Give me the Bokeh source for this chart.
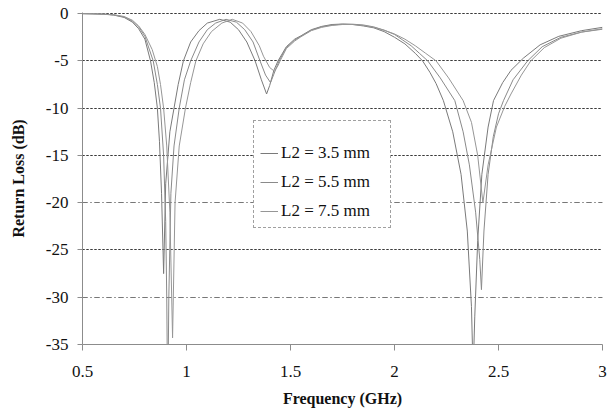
from bokeh.plotting import figure
from bokeh.models import (ColumnDataSource, Legend, LegendItem, Grid, FixedTicker,
                          SingleIntervalTicker, NumeralTickFormatter, Range1d)
from bokeh.embed import file_html
from bokeh.resources import INLINE

# ---- data (frequency in GHz, return loss in dB) ----
series_names = ["L2 = 3.5 mm", "L2 = 5.5 mm", "L2 = 7.5 mm"]

freq_a = [0.50, 0.55, 0.60, 0.65, 0.70, 0.74, 0.77, 0.80, 0.827, 0.845, 0.86, 0.87, 0.88, 0.89,
          0.90, 0.92, 0.94, 0.96, 0.985, 1.02, 1.06, 1.10, 1.16,
          1.21, 1.25, 1.29, 1.33, 1.36, 1.385, 1.40, 1.42, 1.44, 1.48, 1.52, 1.55, 1.60, 1.65,
          1.70, 1.75, 1.80, 1.85, 1.90, 1.95, 2.00, 2.05, 2.10, 2.135, 2.17, 2.20, 2.235, 2.28,
          2.32, 2.35, 2.37, 2.378, 2.386, 2.40, 2.42, 2.45, 2.476, 2.52, 2.56, 2.62, 2.70, 2.79,
          2.90, 3.00]
rl_a = [0.0, -0.02, -0.06, -0.15, -0.4, -0.9, -1.6, -2.7, -5.0, -7.3, -10.0, -13.5, -19.0, -27.5,
        -18.0, -12.5, -10.0, -7.5, -5.0, -3.0, -1.8, -1.0, -0.6,
        -0.9, -1.7, -3.0, -5.0, -7.0, -8.5, -7.6, -6.0, -5.0, -3.5, -2.7, -2.35, -1.7, -1.35,
        -1.15, -1.1, -1.15, -1.3, -1.5, -1.9, -2.5, -3.2, -4.2, -5.0, -6.2, -7.4, -9.2, -12.5,
        -17.0, -23.0, -31.0, -38.0, -32.0, -24.0, -17.0, -12.0, -9.2, -7.3, -6.0, -4.7, -3.3, -2.4,
        -1.8, -1.45]

freq_b = [0.50, 0.55, 0.60, 0.65, 0.70, 0.74, 0.77, 0.80, 0.84, 0.86, 0.875, 0.89, 0.90, 0.905,
          0.91, 0.915, 0.925, 0.94, 0.965, 0.99, 1.02, 1.06, 1.10, 1.14, 1.19,
          1.24, 1.28, 1.32, 1.35, 1.38, 1.404, 1.42, 1.445, 1.48, 1.52, 1.55, 1.60, 1.65,
          1.70, 1.75, 1.80, 1.85, 1.90, 1.95, 2.00, 2.04, 2.08, 2.12, 2.16, 2.22, 2.29, 2.33,
          2.36, 2.39, 2.41, 2.418, 2.43, 2.45, 2.475, 2.50, 2.524, 2.57, 2.64, 2.71, 2.80,
          2.90, 3.00]
rl_b = [0.0, -0.02, -0.05, -0.13, -0.35, -0.8, -1.4, -2.4, -5.0, -7.5, -10.0, -15.0, -22.0, -30.0,
        -42.0, -30.0, -19.0, -14.0, -10.0, -7.0, -5.0, -3.0, -1.7, -1.0, -0.6,
        -0.9, -1.7, -3.0, -4.8, -6.5, -7.3, -6.4, -5.0, -3.6, -2.8, -2.4, -1.75, -1.4,
        -1.2, -1.12, -1.12, -1.2, -1.4, -1.75, -2.2, -2.8, -3.4, -4.2, -5.0, -6.8, -9.2, -12.5,
        -16.0, -21.0, -26.0, -29.2, -23.0, -17.0, -13.0, -10.6, -9.2, -7.0, -5.0, -3.5, -2.5,
        -1.95, -1.65]

freq_c = [0.50, 0.55, 0.60, 0.65, 0.70, 0.74, 0.77, 0.80, 0.835, 0.86, 0.875, 0.89, 0.905, 0.92,
          0.933, 0.945, 0.965, 0.995, 1.02, 1.045, 1.08, 1.12, 1.17, 1.22,
          1.27, 1.31, 1.35, 1.37, 1.40, 1.423, 1.44, 1.45, 1.48, 1.52, 1.55, 1.60, 1.65,
          1.70, 1.75, 1.80, 1.85, 1.90, 1.95, 2.00, 2.05, 2.10, 2.15, 2.20, 2.26, 2.33,
          2.37, 2.40, 2.425, 2.45, 2.49, 2.53, 2.56, 2.61, 2.655, 2.72, 2.80, 2.90, 3.00]
rl_c = [0.0, -0.02, -0.05, -0.12, -0.3, -0.7, -1.3, -2.2, -3.8, -5.6, -7.5, -10.0, -14.0, -21.0,
        -34.3, -20.0, -14.0, -10.0, -7.3, -5.0, -3.2, -1.9, -1.0, -0.6,
        -1.0, -1.9, -3.4, -4.5, -5.7, -6.1, -5.5, -5.0, -3.7, -2.9, -2.45, -1.8, -1.45,
        -1.25, -1.15, -1.15, -1.25, -1.45, -1.75, -2.15, -2.7, -3.4, -4.2, -5.0, -6.8, -9.2,
        -11.5, -15.0, -20.0, -16.0, -12.0, -9.8, -8.5, -6.5, -5.0, -3.6, -2.6, -1.95, -1.6]

y_ticks_dark = [0, -5, -10, -15, -25]
y_ticks_light = [-20, -30]

FONT = "Liberation Serif"

p = figure(width=613, height=417, output_backend="svg", toolbar_location=None,
           x_range=Range1d(0.5, 3.0), y_range=Range1d(-35, 0.12),
           min_border_left=82, min_border_right=11, min_border_top=12, min_border_bottom=73)
p.outline_line_color = None
p.background_fill_color = "white"
p.border_fill_color = "white"
p.xgrid.visible = False
p.ygrid.visible = False

colors = ["#7a7a7a", "#8a8a8a", "#969696"]
renderers = []
for fx, fy, c in zip([freq_a, freq_b, freq_c], [rl_a, rl_b, rl_c], colors):
    src = ColumnDataSource(dict(x=fx, y=fy))
    r = p.line("x", "y", source=src, line_color=c, line_width=1)
    renderers.append(r)

g1 = Grid(dimension=1, ticker=FixedTicker(ticks=y_ticks_dark),
          grid_line_color="#3a3a3a", grid_line_dash="2 2", grid_line_width=1.2)
g2 = Grid(dimension=1, ticker=FixedTicker(ticks=y_ticks_light),
          grid_line_color="#777777", grid_line_dash="5 3 1 3", grid_line_width=1)
p.add_layout(g1, "center")
p.add_layout(g2, "center")
p.renderers = [g1, g2] + [r for r in p.renderers if r not in (g1, g2)]

# axes
p.xaxis.ticker = SingleIntervalTicker(interval=0.5)
p.yaxis.ticker = SingleIntervalTicker(interval=5)
p.xaxis.formatter = NumeralTickFormatter(format="0.[0]")
p.yaxis.formatter = NumeralTickFormatter(format="0")
for ax in (p.xaxis[0], p.yaxis[0]):
    ax.axis_line_color = "#8c8c8c"
    ax.major_tick_line_color = "#8c8c8c"
    ax.minor_tick_line_color = None
    ax.major_tick_in = 0
    ax.major_label_text_font = FONT
    ax.major_label_text_font_size = "17px"
    ax.major_label_text_color = "#111111"
    ax.axis_label_text_font = FONT
    ax.axis_label_text_font_size = "16px"
    ax.axis_label_text_font_style = "bold"
    ax.axis_label_text_color = "#111111"
p.xaxis.major_tick_out = 6
p.xaxis.major_label_standoff = 15
p.xaxis.axis_label = "Frequency (GHz)"
p.xaxis.axis_label_standoff = 10
p.yaxis.major_tick_out = 5
p.yaxis.major_label_standoff = 9
p.yaxis.axis_label = "Return Loss (dB)"
p.yaxis.axis_label_standoff = 16

legend = Legend(items=[LegendItem(label=n, renderers=[r]) for n, r in zip(series_names, renderers)],
                location=(171, 116), title=" ", title_text_font_size="14px", title_standoff=0,
                padding=6, margin=0, spacing=9, label_height=20, glyph_height=20, glyph_width=18,
                label_width=103, label_standoff=3,
                label_text_font=FONT, label_text_font_size="17px", label_text_color="#111111",
                border_line_color="#444444", border_line_dash="6 2 1 2", border_line_width=1,
                background_fill_color="white", background_fill_alpha=1)
p.add_layout(legend, "center")

open("out.html", "w").write(file_html(p, INLINE))
